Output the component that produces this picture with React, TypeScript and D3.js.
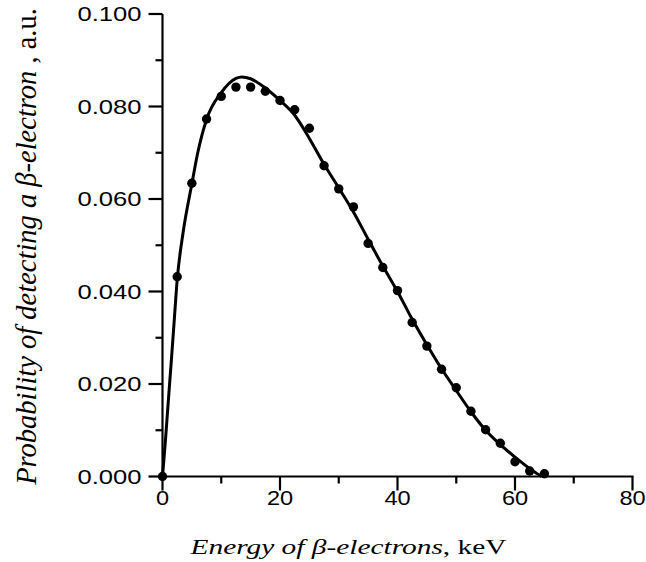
import React from "react";
import * as d3 from "d3";

// Measured points (energy keV, probability)
const pointEnergy = [0, 2.5, 5, 7.5, 10, 12.5, 15, 17.5, 20, 22.5, 25, 27.5, 30, 32.5, 35, 37.5, 40, 42.5, 45, 47.5, 50, 52.5, 55, 57.5, 60, 62.5, 65];
const pointProb = [0, 0.0432, 0.0634, 0.0773, 0.0822, 0.0842, 0.0842, 0.0833, 0.0813, 0.0793, 0.0753, 0.0672, 0.0622, 0.0583, 0.0504, 0.0452, 0.0402, 0.0333, 0.0282, 0.0232, 0.0192, 0.0141, 0.0101, 0.0072, 0.0032, 0.0012, 0.0006];

// Fitted curve (energy keV, probability)
const curveEnergy = [0, 0.5, 1, 1.5, 2, 2.5, 3.5, 5, 6, 7.5, 10, 12.5, 13.5, 15, 17.5, 20, 22.5, 25, 27.5, 30, 32.5, 35, 37.5, 40, 42.5, 45, 47.5, 50, 52.5, 55, 57.5, 60, 62.5, 64.5];
const curveProb = [0, 0.0078, 0.0165, 0.0250, 0.0338, 0.0425, 0.0527, 0.0633, 0.0700, 0.0772, 0.0830, 0.0861, 0.0864, 0.0860, 0.0840, 0.0813, 0.0781, 0.0731, 0.0675, 0.0624, 0.0572, 0.0513, 0.0455, 0.0400, 0.0340, 0.0285, 0.0233, 0.0186, 0.0140, 0.0100, 0.0069, 0.0042, 0.0017, 0.0];

const xMajorTicks = [0, 20, 40, 60, 80];
const xMinorTicks = [10, 30, 50, 70];
const yMajorTicks = [0, 0.02, 0.04, 0.06, 0.08, 0.1];
const yMinorTicks = [0.01, 0.03, 0.05, 0.07, 0.09];

const W = 646;
const H = 562;
const X0 = 162.5, X1 = 632.5, Y0 = 476.5, Y1 = 14;

export default function App() {
  const x = d3.scaleLinear().domain([0, 80]).range([X0, X1]);
  const y = d3.scaleLinear().domain([0, 0.1]).range([Y0, Y1]);
  const line = d3
    .line<number>()
    .x((_, i) => x(curveEnergy[i]))
    .y((d) => y(d))
    .curve(d3.curveMonotoneX);
  const tickFont = "'Liberation Sans', Arial, sans-serif";
  const serif = "'Liberation Serif', 'Times New Roman', serif";
  return (
    <svg width={W} height={H} style={{ position: "absolute", left: 0, top: 0, background: "#fff" }}>
      <rect width={W} height={H} fill="#fff" />
      {/* axes lines */}
      <line x1={X0} x2={X0} y1={Y1} y2={Y0} stroke="#000" strokeWidth={2.2} />
      <line x1={X0} x2={X1 + 1} y1={Y0} y2={Y0} stroke="#000" strokeWidth={2.2} />
      {/* y ticks */}
      {yMajorTicks.map((t) => (
        <g key={"ym" + t}>
          <line x1={X0 - 14} x2={X0} y1={y(t)} y2={y(t)} stroke="#000" strokeWidth={2.2} />
          <text
            transform={`translate(${X0 - 21},${y(t)}) scale(1.28,1)`}
            dy="0.36em"
            textAnchor="end"
            fontFamily={tickFont}
            fontSize={20}
          >
            {d3.format(".3f")(t)}
          </text>
        </g>
      ))}
      {yMinorTicks.map((t) => (
        <line key={"yn" + t} x1={X0 - 7} x2={X0} y1={y(t)} y2={y(t)} stroke="#000" strokeWidth={2.2} />
      ))}
      {/* x ticks */}
      {xMajorTicks.map((t) => (
        <g key={"xm" + t}>
          <line x1={x(t)} x2={x(t)} y1={Y0} y2={Y0 + 14} stroke="#000" strokeWidth={2.2} />
          <text
            transform={`translate(${x(t)},505) scale(1.18,1)`}
            textAnchor="middle"
            fontFamily={tickFont}
            fontSize={20}
          >
            {t}
          </text>
        </g>
      ))}
      {xMinorTicks.map((t) => (
        <line key={"xn" + t} x1={x(t)} x2={x(t)} y1={Y0} y2={Y0 + 7} stroke="#000" strokeWidth={2.2} />
      ))}
      {/* curve */}
      <path d={line(curveProb) || ""} fill="none" stroke="#000" strokeWidth={3} />
      {/* points */}
      {pointProb.map((p, i) => (
        <circle key={"p" + i} cx={x(pointEnergy[i])} cy={y(p)} r={4.7} fill="#000" />
      ))}
      {/* x title */}
      <text
        transform="translate(348.5,554) scale(1.4,1)"
        textAnchor="middle"
        fontFamily={serif}
        fontSize={21}
      >
        <tspan fontStyle="italic">Energy of β-electrons</tspan>
        <tspan>, keV</tspan>
      </text>
      {/* y title */}
      <text
        transform={`translate(35.5, 246.5) rotate(-90)`}
        textAnchor="middle"
        fontFamily={serif}
        fontSize={28.5}
      >
        <tspan fontStyle="italic">Probability of detecting a β-electron</tspan>
        <tspan> , a.u.</tspan>
      </text>
    </svg>
  );
}
